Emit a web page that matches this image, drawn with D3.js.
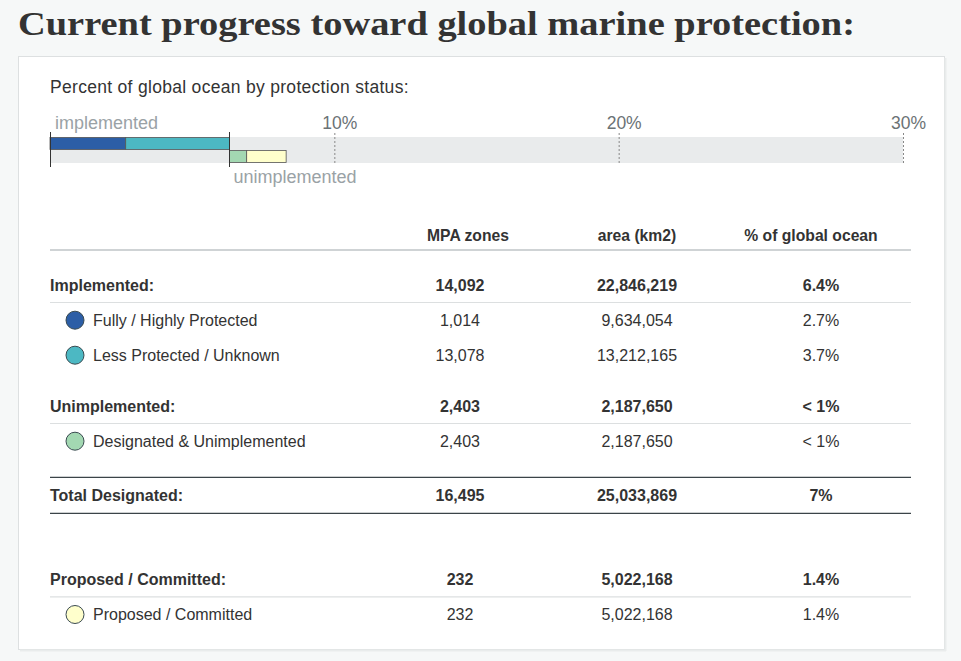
<!DOCTYPE html>
<html>
<head>
<meta charset="utf-8">
<script src="https://cdn.jsdelivr.net/npm/d3@7"></script>
<style>
  body { margin: 0; background: #f6f8f8; }
  svg { display: block; }
  text { font-family: "Liberation Sans", Arial, sans-serif; }
</style>
</head>
<body>
<div id="chart"></div>
<script>
// Data
const oceanArea = 361900000; // km2, global ocean

// Bar segments (stacked per row)
const barRows = ["implemented", "unimplemented"];
const barSegments = [["Fully / Highly Protected", "Less Protected / Unknown"], ["Designated & Unimplemented", "Proposed / Committed"]];
const barAreas = [[9634054, 13212165], [2187650, 5022168]];
const barColors = [["#2c5ea6", "#4cb8c3"], ["#a3d8b2", "#ffffcc"]];
const axisTicks = [10, 20, 30];

// Table
const columns = ["MPA zones", "area (km2)", "% of global ocean"];
const rowLabels = ["Implemented:", "Fully / Highly Protected", "Less Protected / Unknown", "Unimplemented:", "Designated & Unimplemented", "Total Designated:", "Proposed / Committed:", "Proposed / Committed"];
const rowTypes = ["group", "item", "item", "group", "item", "total", "group", "item"];
const rowZones = [14092, 1014, 13078, 2403, 2403, 16495, 232, 232];
const rowAreas = [22846219, 9634054, 13212165, 2187650, 2187650, 25033869, 5022168, 5022168];
const rowPcts = ["6.4%", "2.7%", "3.7%", "< 1%", "< 1%", "7%", "1.4%", "1.4%"];
const rowColors = [null, "#2c5ea6", "#4cb8c3", null, "#a3d8b2", null, null, "#ffffcc"];

// Setup
const w = 961, h = 661;
const svg = d3.select("#chart").append("svg").attr("width", w).attr("height", h);

// Title
const title = svg.append("text").attr("x", 18).attr("y", 35)
  .style("font-family", "'Liberation Serif', 'DejaVu Serif', serif").style("font-weight", "bold")
  .style("font-size", "34px").attr("fill", "#333")
  .text("Current progress toward global marine protection:");
title.attr("textLength", 837).attr("lengthAdjust", "spacingAndGlyphs");

// Card
svg.append("rect").attr("x", 18.5).attr("y", 56.5).attr("width", 926).attr("height", 593)
  .attr("fill", "#fff").attr("stroke", "#dde0e1");
svg.append("line").attr("x1", 945.5).attr("x2", 945.5).attr("y1", 58).attr("y2", 651).attr("stroke", "#e9ecec").attr("stroke-width", 2);
svg.append("line").attr("x1", 20).attr("x2", 946).attr("y1", 650.5).attr("y2", 650.5).attr("stroke", "#e9ecec").attr("stroke-width", 2);

svg.append("text").attr("x", 50).attr("y", 93).attr("fill", "#333").style("font-size", "17.5px")
  .style("letter-spacing", "0.3px")
  .text("Percent of global ocean by protection status:");

// Bar chart
const x = d3.scaleLinear().domain([0, 30]).range([50, 903]);
const barTop = 137, barH = 13;

svg.append("rect").attr("x", x(0)).attr("y", barTop).attr("width", x(30) - x(0)).attr("height", barH * 2)
  .attr("fill", "#e9ebec");

// Stack segments: unimplemented row starts where implemented ends
const implEnd = d3.sum(barAreas[0]) / oceanArea * 100;
barRows.forEach((row, r) => {
  let start = r === 0 ? 0 : implEnd;
  const segs = barAreas[r].map((a, i) => {
    const p = a / oceanArea * 100;
    const s = { name: barSegments[r][i], x0: start, x1: start + p, color: barColors[r][i] };
    start += p;
    return s;
  });
  svg.append("g").selectAll("rect").data(segs).enter().append("rect")
    .attr("x", d => x(d.x0)).attr("y", barTop + r * barH + 0.5)
    .attr("width", d => x(d.x1) - x(d.x0)).attr("height", barH - 1)
    .attr("fill", d => d.color).attr("stroke", "#555").attr("stroke-width", 0.8);
});

// Dashed percent ticks
const axis = d3.axisTop(x).tickValues(axisTicks).tickFormat(d => d + "%").tickSize(30).tickPadding(4);
const gAxis = svg.append("g").attr("transform", "translate(0," + (barTop + barH * 2) + ")").call(axis);
gAxis.select(".domain").remove();
gAxis.selectAll(".tick line").attr("stroke", "#888").attr("stroke-dasharray", "2,2");
gAxis.selectAll(".tick text").attr("dx", 5).attr("fill", "#6b7275")
  .style("font-size", "17.5px").style("font-family", "'Liberation Sans', Arial, sans-serif");

// Solid markers at start and at end of implemented
[0, implEnd].forEach(v => {
  svg.append("line").attr("x1", Math.round(x(v)) + 0.5).attr("x2", Math.round(x(v)) + 0.5)
    .attr("y1", 132).attr("y2", 167).attr("stroke", "#333").attr("stroke-width", 1);
});
svg.append("text").attr("x", x(0) + 5).attr("y", 129).attr("fill", "#9aa2a6").style("font-size", "18px").text("implemented");
svg.append("text").attr("x", x(implEnd) + 4).attr("y", 183).attr("fill", "#9aa2a6").style("font-size", "18px").text("unimplemented");

// Table
const tLeft = 50, tRight = 911;
const headCenters = [468, 637, 811];
const dataCenters = [460, 637, 821];
const fmt = d3.format(",");

svg.append("g").selectAll("text").data(columns).enter().append("text")
  .attr("x", (d, i) => headCenters[i]).attr("y", 241).attr("text-anchor", "middle")
  .attr("fill", "#333").style("font-weight", "bold").style("font-size", "15.7px").text(d => d);
svg.append("line").attr("x1", tLeft).attr("x2", tRight).attr("y1", 250).attr("y2", 250)
  .attr("stroke", "#cfd3d5").attr("stroke-width", 2);

// Row baselines
let cy = 290.7;
const rowY = rowTypes.map((t, i) => {
  if (i > 0) {
    const prev = rowTypes[i - 1];
    if (t === "item") cy += 35;
    else if (t === "total") cy += 54;
    else if (prev === "total") cy += 84.3;
    else cy += 51;
  }
  return cy;
});

const rows = svg.append("g").selectAll("g").data(rowLabels).enter().append("g")
  .attr("transform", (d, i) => "translate(0," + rowY[i] + ")");

rows.each(function(label, i) {
  const g = d3.select(this);
  const bold = rowTypes[i] !== "item";
  const fs = "16px";
  g.append("text").attr("x", rowTypes[i] === "item" ? 93 : tLeft).attr("y", 0).attr("fill", "#333")
    .style("font-weight", bold ? "bold" : "normal").style("font-size", fs).text(label);
  const vals = [fmt(rowZones[i]), fmt(rowAreas[i]), rowPcts[i]];
  vals.forEach((v, c) => {
    g.append("text").attr("x", dataCenters[c]).attr("y", 0).attr("text-anchor", "middle").attr("fill", "#333")
      .style("font-weight", bold ? "bold" : "normal").style("font-size", fs).text(v);
  });
  if (rowColors[i]) {
    g.append("circle").attr("cx", 75).attr("cy", -5.5).attr("r", 9)
      .attr("fill", rowColors[i]).attr("stroke", "#3a4a50").attr("stroke-width", 1);
  }
  if (rowTypes[i] === "group") {
    g.append("line").attr("x1", tLeft).attr("x2", tRight).attr("y1", 11.8).attr("y2", 11.8)
      .attr("stroke", "#dcdfe0").attr("stroke-width", 1.2);
  }
  if (rowTypes[i] === "total") {
    [-23.4, 12.6].forEach(dy => {
      g.append("line").attr("x1", tLeft).attr("x2", tRight).attr("y1", dy).attr("y2", dy)
        .attr("stroke", "#3b4448").attr("stroke-width", 1.3);
    });
  }
});
</script>
</body>
</html>
